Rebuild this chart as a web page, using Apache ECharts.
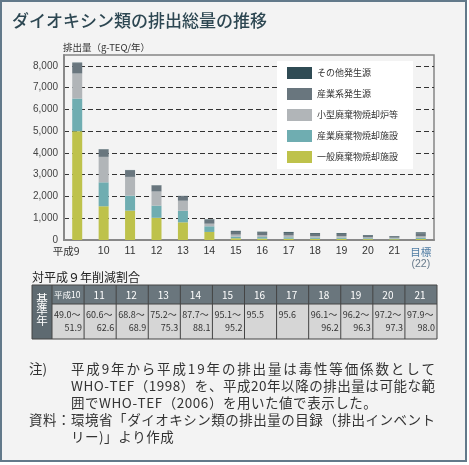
<!DOCTYPE html>
<html><head><meta charset="utf-8">
<script src="https://cdn.jsdelivr.net/npm/echarts@6/dist/echarts.min.js"></script>
<style>html,body{margin:0;padding:0;background:#fff}#c{width:469px;height:465px}</style>
</head><body><div id="c"></div>
<script>
// ---- data ----
const categories = ['平成9','10','11','12','13','14','15','16','17','18','19','20','21','目標(22)'];
const seriesNames = ['一般廃棄物焼却施設','産業廃棄物焼却施設','小型廃棄物焼却炉等','産業系発生源','その他発生源'];
const generalWaste   = [5000,1550,1350,1020,812,370,80,65,60,55,55,40,35,50];
const industrialWaste= [1500,1100, 690, 560,533,260,75,70,65,60,55,40,35,50];
const smallIncin     = [1150,1170, 860, 650,460,120,95,85,85,70,70,45,35,70];
const industrialSrc  = [ 480, 330, 300, 270,210,190,130,120,120,100,100,80,60,140];
const otherSrc       = [  20,  20,  18,  15, 12, 15,40,40,40,35,35,25,20,40];
const yTicks = [0,1000,2000,3000,4000,5000,6000,7000,8000];
const tableYears = ['平成10','11','12','13','14','15','16','17','18','19','20','21'];
const rangeLow  = ['49.0','60.6','68.8','75.2','87.7','95.1','95.5','95.6','96.1','96.2','97.2','97.9'];
const rangeHigh = ['51.9','62.6','68.9','75.3','88.1','95.2','','','96.2','96.3','97.3','98.0'];

const colors = ['#bec24b','#6fadb1','#b1b5b8','#69767e','#2f4b54'];
const seriesData = [generalWaste, industrialWaste, smallIncin, industrialSrc, otherSrc];
const JP = '"Noto Sans CJK JP", sans-serif';

// ---- text helpers ----
const cv = document.createElement('canvas').getContext('2d');
function lineEls(text, x0, x1, y, font, fixedGap){
  cv.font = font;
  const chars = Array.from(text);
  const ws = chars.map(c => cv.measureText(c).width);
  const tot = ws.reduce((a,b)=>a+b,0);
  const gap = fixedGap != null ? fixedGap : (x1 - x0 - tot) / (chars.length - 1);
  let x = x0; const els = [];
  chars.forEach((c,i)=>{
    els.push({type:'text', x:x, y:y, silent:true, style:{text:c, font:font, fill:'#333', textVerticalAlign:'middle'}});
    x += ws[i] + gap;
  });
  return {els, gap};
}

const g = [];
g.push({type:'rect', z:-10, shape:{x:1,y:1,width:465,height:460}, style:{fill:'#f3f3f3', stroke:'#62798a', lineWidth:2}});
g.push({type:'text', x:12, y:21, style:{text:'ダイオキシン類の排出総量の推移', font:'500 17px '+JP, fill:'#2d4752', textVerticalAlign:'middle'}});
g.push({type:'text', x:63, y:47, style:{text:'排出量（g-TEQ/年）', font:'9.5px '+JP, fill:'#333', textVerticalAlign:'middle'}});
g.push({type:'text', x:32, y:277, style:{text:'対平成９年削減割合', font:'12px '+JP, fill:'#222', textVerticalAlign:'middle'}});

// table
const tx0=32, tc0=52, tx1=437, ty0=285, ty1=304, ty2=339;
const cw=(tx1-tc0)/tableYears.length;
g.push({type:'rect', shape:{x:tx0,y:ty0,width:tc0-tx0,height:ty2-ty0}, style:{fill:'#5e6a71'}});
g.push({type:'rect', shape:{x:tc0,y:ty0,width:tx1-tc0,height:ty1-ty0}, style:{fill:'#6a767d'}});
g.push({type:'rect', shape:{x:tc0,y:ty1,width:tx1-tc0,height:ty2-ty1}, style:{fill:'#d6d6d6'}});
['基','準','年'].forEach((c,i)=>g.push({type:'text', x:42, y:299+i*11, style:{text:c, font:'11.5px '+JP, fill:'#fff', textAlign:'center', textVerticalAlign:'middle'}}));
tableYears.forEach((yr,i)=>{
  const x = tc0 + i*cw;
  if(i===0){
    g.push({type:'text', x:x+2, y:295, style:{text:yr, font:'8.5px '+JP, fill:'#fff', textVerticalAlign:'middle'}});
  } else {
    g.push({type:'text', x:x+cw/2-1, y:295, style:{text:yr, font:'10px '+JP, fill:'#fff', textAlign:'center', textVerticalAlign:'middle'}});
  }
  const hi = rangeHigh[i];
  g.push({type:'text', x:x+2, y:315, style:{text: rangeLow[i] + (hi ? '～' : ''), font:'9px "Liberation Sans Narrow", '+JP, fill:'#333', textVerticalAlign:'middle'}});
  if(hi) g.push({type:'text', x:x+cw-2, y:328, style:{text:hi, font:'9px "Liberation Sans Narrow", '+JP, fill:'#333', textAlign:'right', textVerticalAlign:'middle'}});
  if(i>0) g.push({type:'line', shape:{x1:x,y1:ty0,x2:x,y2:ty2}, style:{stroke:'#444', lineWidth:1}});
});
g.push({type:'line', shape:{x1:tc0,y1:ty1,x2:tx1,y2:ty1}, style:{stroke:'#444', lineWidth:1}});
g.push({type:'line', shape:{x1:tc0,y1:ty0,x2:tc0,y2:ty2}, style:{stroke:'#444', lineWidth:1}});
g.push({type:'rect', shape:{x:tx0,y:ty0,width:tx1-tx0,height:ty2-ty0}, style:{fill:'none', stroke:'#444', lineWidth:1}});

// notes
const NF = '13.5px '+JP;
g.push({type:'text', x:29, y:369, style:{text:'注)', font:NF, fill:'#333', textVerticalAlign:'middle'}});
let r = lineEls('平成9年から平成19年の排出量は毒性等価係数として', 71, 435, 369, NF); g.push(...r.els);
r = lineEls('WHO-TEF（1998）を、平成20年以降の排出量は可能な範', 71, 435, 386, NF); g.push(...r.els);
r = lineEls('囲でWHO-TEF（2006）を用いた値で表示した。', 71, 0, 403, NF, r.gap); g.push(...r.els);
r = lineEls('資料：環境省「ダイオキシン類の排出量の目録（排出インベント', 29, 435, 420, NF); g.push(...r.els);
r = lineEls('リー)」より作成', 71, 0, 437, NF, r.gap); g.push(...r.els);

const chart = echarts.init(document.getElementById('c'));
chart.setOption({
  backgroundColor:'#fff',
  animation:false,
  grid:{left:64, right:35, top:55, bottom:225, show:true, borderColor:'#858585', borderWidth:1.5, backgroundColor:'transparent'},
  legend:{
    data: seriesNames.slice().reverse(), orient:'vertical', left:277, top:61,
    itemWidth:25, itemHeight:12, itemGap:9, icon:'rect',
    padding:[6,15,6,10], backgroundColor:'#fff',
    textStyle:{fontSize:9, color:'#333', fontFamily:JP}
  },
  xAxis:{
    type:'category', data:categories, boundaryGap:true,
    axisLine:{lineStyle:{color:'#888', width:2}},
    axisTick:{inside:true, length:6, lineStyle:{color:'#333'}},
    axisLabel:{
      interval:0, margin:6, color:'#333', fontSize:10.5,
      formatter:(v,i)=> i===0 ? '{p|'+v+'}' : (i===categories.length-1 ? '{t|目標}\n{s|(22)}' : v),
      rich:{
        p:{padding:[0,22,0,0], fontSize:10.5, color:'#333', fontFamily:JP},
        t:{fontSize:10.5, color:'#4f7ca3', lineHeight:12, fontFamily:JP},
        s:{fontSize:10.5, color:'#66798a', lineHeight:12}
      }
    }
  },
  yAxis:{
    type:'value', min:0, max:8500, interval:1000,
    axisLine:{show:true, lineStyle:{color:'#888', width:2}},
    axisTick:{show:false},
    axisLabel:{margin:6, fontSize:10, color:'#444',
      formatter:v=> yTicks.indexOf(v)>=0 ? v.toLocaleString('en-US') : ''},
    splitLine:{show:true, showMinLine:false, showMaxLine:false, lineStyle:{color:'#333', type:[5,3], width:1}}
  },
  series: seriesNames.map((n,k)=>({
    name:n, type:'bar', stack:'total', barWidth:10,
    itemStyle:{color:colors[k]}, data:seriesData[k]
  })),
  graphic:{elements:g}
});
</script></body></html>
